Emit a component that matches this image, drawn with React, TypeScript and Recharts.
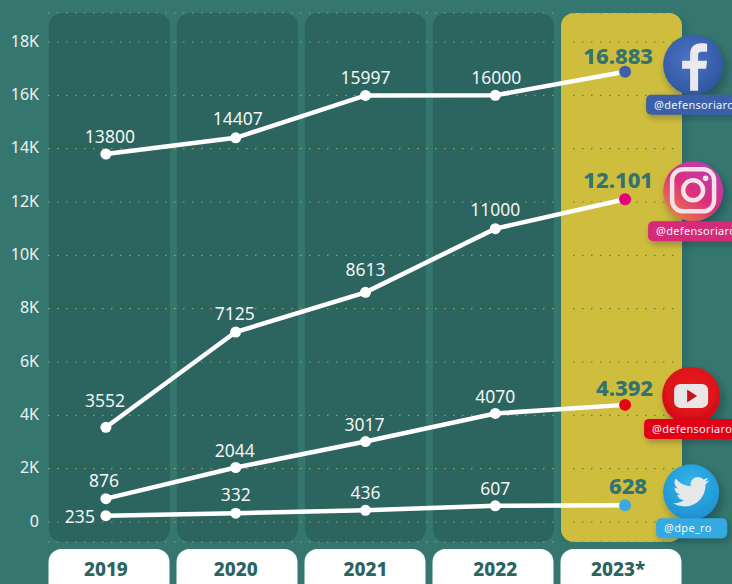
import React from "react";
import { ComposedChart, Bar, Line, XAxis, YAxis, CartesianGrid } from "recharts";

const years = ["2019", "2020", "2021", "2022", "2023*"];
const facebook = [13800, 14407, 15997, 16000, 16883];
const instagram = [3552, 7125, 8613, 11000, 12101];
const youtube = [876, 2044, 3017, 4070, 4392];
const twitter = [235, 332, 436, 607, 628];
const lastLabels = ["16.883", "12.101", "4.392", "628"];
const yTicks = [0, 2000, 4000, 6000, 8000, 10000, 12000, 14000, 16000, 18000];
const yLabels = ["0", "2K", "4K", "6K", "8K", "10K", "12K", "14K", "16K", "18K"];
const Y_MIN = -750;
const Y_MAX = 19087;

const data = years.map((year, i) => ({
  year,
  facebook: facebook[i],
  instagram: instagram[i],
  youtube: youtube[i],
  twitter: twitter[i],
}));

const FONT = "'Noto Sans', sans-serif";
const BG = "#35776f";
const PANEL = "#2c6460";
const YELLOW = "#cfbd3c";
const TEAL_TEXT = "#32736f";

const Panel = (p: any) =>
  p.index === 4 ? (
    <rect x={p.x} y={p.y} width={p.width} height={p.height} rx={13} fill={YELLOW} filter="url(#panelShadow)" />
  ) : (
    <rect x={p.x} y={p.y} width={p.width} height={p.height} rx={13} fill={PANEL} />
  );

const Chip = (p: any) => (
  <rect x={p.x - 60.5} y={549} width={121} height={50} rx={13} fill="#ffffff" />
);

const YearText = (p: any) => (
  <text x={p.x - (p.index === 4 ? 7 : 0)} y={569} dy="0.36em" textAnchor="middle" fontFamily={FONT} fontWeight={800} fontSize={19} fill="#2c6460">
    {p.payload.value}
  </text>
);

const FbIcon = () => (
  <g>
    <circle r={30} fill="url(#gFb)" filter="url(#iconShadow)" />
    <path d="M5 26V4h8l1-8H5v-5c0-3 1-4 4-4h5v-8c-2-.4-4-.5-6-.5-7 0-11 4-11 11.500V-4h-8v8h8v22z" fill="#e9e9ee" />
  </g>
);
const IgIcon = () => (
  <g>
    <circle r={30} fill="url(#gIg)" filter="url(#iconShadow)" />
    <rect x={-21} y={-22} width={42} height={42} rx={11} fill="none" stroke="#f3e3e6" strokeWidth={4.5} />
    <circle cy={-1} r={10} fill="none" stroke="#f3e3e6" strokeWidth={4.5} />
    <circle cx={12.500} cy={-13} r={2.800} fill="#f3e3e6" />
  </g>
);
const YtIcon = () => (
  <g>
    <circle r={29} fill="url(#gYt)" filter="url(#iconShadow)" />
    <rect x={-17} y={-12} width={34} height={24} rx={6} fill="#e8e6e6" />
    <path d="M-4-6.500 6 0-4 6.500z" fill="#c4161c" />
  </g>
);
const TwIcon = () => (
  <g>
    <circle r={28} fill="url(#gTw)" filter="url(#iconShadow)" />
    <g transform="translate(-18,-18.500) scale(1.500)">
      <path
        d="M23.954 4.569c-.885.389-1.83.654-2.825.775 1.014-.611 1.794-1.574 2.163-2.723-.951.555-2.005.959-3.127 1.184-.896-.959-2.173-1.559-3.591-1.559-2.717 0-4.92 2.203-4.92 4.917 0 .39.045.765.127 1.124C7.691 8.094 4.066 6.13 1.64 3.161c-.427.722-.666 1.561-.666 2.475 0 1.71.87 3.213 2.188 4.096-.807-.026-1.566-.248-2.228-.616v.061c0 2.385 1.693 4.374 3.946 4.827-.413.111-.849.171-1.296.171-.314 0-.615-.03-.916-.086.631 1.953 2.445 3.377 4.604 3.417-1.68 1.319-3.809 2.105-6.102 2.105-.39 0-.779-.023-1.17-.067 2.189 1.394 4.768 2.209 7.557 2.209 9.054 0 13.999-7.496 13.999-13.986 0-.209 0-.42-.015-.63.961-.689 1.8-1.56 2.46-2.548l-.047-.02z"
        fill="#e6e8ea"
      />
    </g>
  </g>
);

type Cfg = {
  key: string;
  color: string;
  pill: string;
  handle: string;
  icon: React.ReactNode;
  iconDx: number;
  iconDy: number;
  pillDx: number;
  pillDy: number;
  pillW: number;
  lastLabel: string;
  lastDy: number;
  lastEnd: number;
  nudge: number[];
  nudgeX: number[];
};

const series: Cfg[] = [
  { key: "facebook", color: "#3f5fab", pill: "#3b5fa8", handle: "@defensoriaro", icon: <FbIcon />, iconDx: 68, iconDy: -7, pillDx: 21, pillDy: 23, pillW: 100, lastLabel: lastLabels[0], lastDy: -16, lastEnd: 28, nudge: [-17, -19, -18, -18], nudgeX: [4, 2, 0, 1] },
  { key: "instagram", color: "#e6007e", pill: "#d42a78", handle: "@defensoriaro", icon: <IgIcon />, iconDx: 68, iconDy: -8, pillDx: 23, pillDy: 22, pillW: 100, lastLabel: lastLabels[1], lastDy: -19, lastEnd: 28, nudge: [-27, -18, -23, -19], nudgeX: [-1, -1, 0, 0] },
  { key: "youtube", color: "#e30613", pill: "#e30613", handle: "@defensoriaro", icon: <YtIcon />, iconDx: 66, iconDy: -9, pillDx: 19, pillDy: 14, pillW: 100, lastLabel: lastLabels[2], lastDy: -17, lastEnd: 28, nudge: [-18, -17, -17, -17], nudgeX: [-2, -1, -1, 0] },
  { key: "twitter", color: "#39a9e0", pill: "#36a9e1", handle: "@dpe_ro", icon: <TwIcon />, iconDx: 66, iconDy: -13, pillDx: 31, pillDy: 13, pillW: 71, lastLabel: lastLabels[3], lastDy: -19, lastEnd: 22, nudge: [0, -18, -18, -17], nudgeX: [0, 0, 0, 0] },
];

const makeDot = (cfg: Cfg) => (p: any) => {
  const last = p.index === years.length - 1;
  return <circle key={p.index} cx={p.cx} cy={p.cy} r={last ? 6 : 5.500} fill={last ? cfg.color : "#ffffff"} />;
};

const makeLabel = (cfg: Cfg) => (p: any) => {
  const { x, y, value, index } = p;
  if (index === years.length - 1) {
    return (
      <g key={index}>
        <text x={x + cfg.lastEnd} y={y + cfg.lastDy} dy="0.36em" textAnchor="end" fontFamily={FONT} fontWeight={800} fontSize={22} fill={TEAL_TEXT}>
          {cfg.lastLabel}
        </text>
        <g transform={`translate(${x + cfg.iconDx},${y + cfg.iconDy})`}>{cfg.icon}</g>
        <rect x={x + cfg.pillDx} y={y + cfg.pillDy} width={cfg.pillW} height={20} rx={5} fill={cfg.pill} filter="url(#pillShadow)" />
        <text x={x + cfg.pillDx + 8} y={y + cfg.pillDy + 10} dy="0.36em" fontFamily={FONT} fontSize={11} letterSpacing={0.3} fill="#f2f4f6">
          {cfg.handle}
        </text>
      </g>
    );
  }
  const isLeft = cfg.key === "twitter" && index === 0;
  return (
    <text
      key={index}
      x={isLeft ? x - 11 : x + cfg.nudgeX[index]}
      y={isLeft ? y + 1 : y + cfg.nudge[index]}
      dy="0.36em"
      textAnchor={isLeft ? "end" : "middle"}
      fontFamily={FONT}
      fontSize={17.500}
      fill="#f1f5f3"
    >
      {value}
    </text>
  );
};

export default function App() {
  return (
    <div style={{ position: "absolute", left: 0, top: 0, width: 732, height: 584, overflow: "hidden", background: BG }}>
      <ComposedChart
        width={732}
        height={584}
        data={data}
        margin={{ top: 13, right: 42, bottom: 0, left: 0 }}
      >
        <defs>
          <filter id="panelShadow" x="-20%" y="-10%" width="140%" height="120%">
            <feDropShadow dx={3} dy={4} stdDeviation={5} floodColor="#1d4a47" floodOpacity={0.35} />
          </filter>
          <filter id="iconShadow" x="-30%" y="-30%" width="170%" height="170%">
            <feDropShadow dx={3} dy={5} stdDeviation={4} floodColor="#123" floodOpacity={0.35} />
          </filter>
          <filter id="pillShadow" x="-20%" y="-30%" width="140%" height="180%">
            <feDropShadow dx={2} dy={3} stdDeviation={3} floodColor="#123" floodOpacity={0.3} />
          </filter>
          <radialGradient id="gFb" cx="45%" cy="40%" r="65%">
            <stop offset="0%" stopColor="#4b74c4" />
            <stop offset="100%" stopColor="#2f549f" />
          </radialGradient>
          <linearGradient id="gIg" x1="0.9" y1="0" x2="0.1" y2="1">
            <stop offset="0%" stopColor="#b43fc0" />
            <stop offset="50%" stopColor="#dc2d7e" />
            <stop offset="100%" stopColor="#ee8a3a" />
          </linearGradient>
          <radialGradient id="gYt" cx="50%" cy="40%" r="65%">
            <stop offset="0%" stopColor="#f01c22" />
            <stop offset="100%" stopColor="#cf0d14" />
          </radialGradient>
          <radialGradient id="gTw" cx="50%" cy="35%" r="70%">
            <stop offset="0%" stopColor="#34b6ea" />
            <stop offset="100%" stopColor="#1c8fcf" />
          </radialGradient>
        </defs>

        <YAxis
          type="number"
          domain={[Y_MIN, Y_MAX]}
          ticks={yTicks}
          interval={0}
          width={41}
          allowDataOverflow
          axisLine={false}
          tickLine={false}
          tickMargin={1}
          tick={{ fill: "#eef3f1", fontSize: 16, fontFamily: FONT, dy: -1, dx: 5 }}
          tickFormatter={(v: number) => yLabels[yTicks.indexOf(v)]}
        />
        <XAxis xAxisId="panel" dataKey="year" scale="band" height={21} padding={{ left: 4, right: 5 }} axisLine={false} tickLine={false} interval={0} tick={<Chip />} />
        <XAxis xAxisId="pts" dataKey="year" scale="band" height={21} axisLine={false} tickLine={false} interval={0} tick={<YearText />} />

        <Bar xAxisId="panel" dataKey={() => [Y_MIN, Y_MAX]} barSize={121} shape={<Panel />} isAnimationActive={false} zIndex={-200} />

        <CartesianGrid x={48} width={512} vertical={false} stroke="#b3a93f" strokeOpacity={0.85} strokeWidth={1.2} strokeDasharray="1.5 7.500" zIndex={100} />
        <CartesianGrid x={573} width={108} vertical={false} stroke="#4d8a66" strokeWidth={1.2} strokeDasharray="1.5 7.500" zIndex={100} />

        {series.map((cfg) => (
          <Line
            key={cfg.key}
            xAxisId="pts"
            dataKey={cfg.key}
            stroke="#ffffff"
            strokeWidth={4.5}
            dot={makeDot(cfg)}
            activeDot={false}
            label={makeLabel(cfg)}
            isAnimationActive={false}
          />
        ))}
      </ComposedChart>
    </div>
  );
}
